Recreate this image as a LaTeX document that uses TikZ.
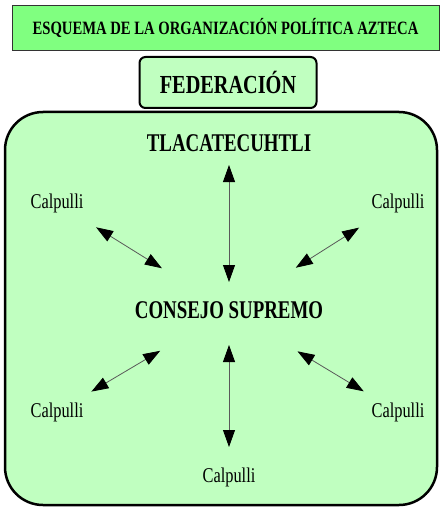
\documentclass[tikz,border=0pt]{standalone}
\usepackage{fontspec}
\setmainfont{Liberation Serif}
\newfontfamily\narrowserif[FakeStretch=0.78]{Liberation Serif}
\newfontfamily\headserif[FakeStretch=0.74]{Liberation Serif}
\usetikzlibrary{arrows.meta}
\definecolor{titlegreen}{RGB}{128,255,128}
\definecolor{palegreen}{RGB}{192,255,192}
\tikzset{head/.style={font=\headserif\bfseries\fontsize{25.5}{27}\selectfont,inner sep=0pt},
    calp/.style={font=\narrowserif\fontsize{21}{23}\selectfont,inner sep=0pt},
    link/.style={<->,>={Triangle[length=17pt,width=12pt,color=black,fill=black]},color=black!65,line width=0.8pt}}
\begin{document}
\begin{tikzpicture}[x=1pt,y=-1pt]
        \useasboundingbox (0,0) rectangle (440,508);

        % titulo y cajas
        \node (title) [draw=black!80,fill=titlegreen,minimum width=427,minimum height=45,
            inner sep=0pt,font=\narrowserif\bfseries\fontsize{18.8}{20}\selectfont] at (225.5,27.5)
            {ESQUEMA DE LA ORGANIZACIÓN POLÍTICA AZTECA};
        \draw[line width=2.5pt,fill=palegreen,rounded corners=38] (5,112) rectangle (437,505);
        \node (fed) [draw,line width=2pt,fill=palegreen,rounded corners=6,minimum width=177,
            minimum height=51,font=\narrowserif\bfseries\fontsize{26}{28}\selectfont] at (228,82.5)
            {FEDERACIÓN};

        % miembros
        \node[head] (tl) at (229,143) {TLACATECUHTLI};
        \node[head] (cs) at (229,310) {CONSEJO SUPREMO};
        \node[calp] (c1) at (57,203) {Calpulli};
        \node[calp] (c2) at (398,203) {Calpulli};
        \node[calp] (c3) at (57,412) {Calpulli};
        \node[calp] (c4) at (398,412) {Calpulli};
        \node[calp] (c5) at (229,477) {Calpulli};

        \path[link]
        (tl.center) edge[shorten <=22pt,shorten >=28pt] (cs.center)
        (c1.center) edge[shorten <=46pt,shorten >=79pt] (cs.center)
        (c2.center) edge[shorten <=46pt,shorten >=79pt] (cs.center)
        (c3.center) edge[shorten <=40pt,shorten >=80pt] (cs.center)
        (c4.center) edge[shorten <=40pt,shorten >=80pt] (cs.center)
        (cs.center) edge[shorten <=35pt,shorten >=30pt] (c5.center);
\end{tikzpicture}
\end{document}
